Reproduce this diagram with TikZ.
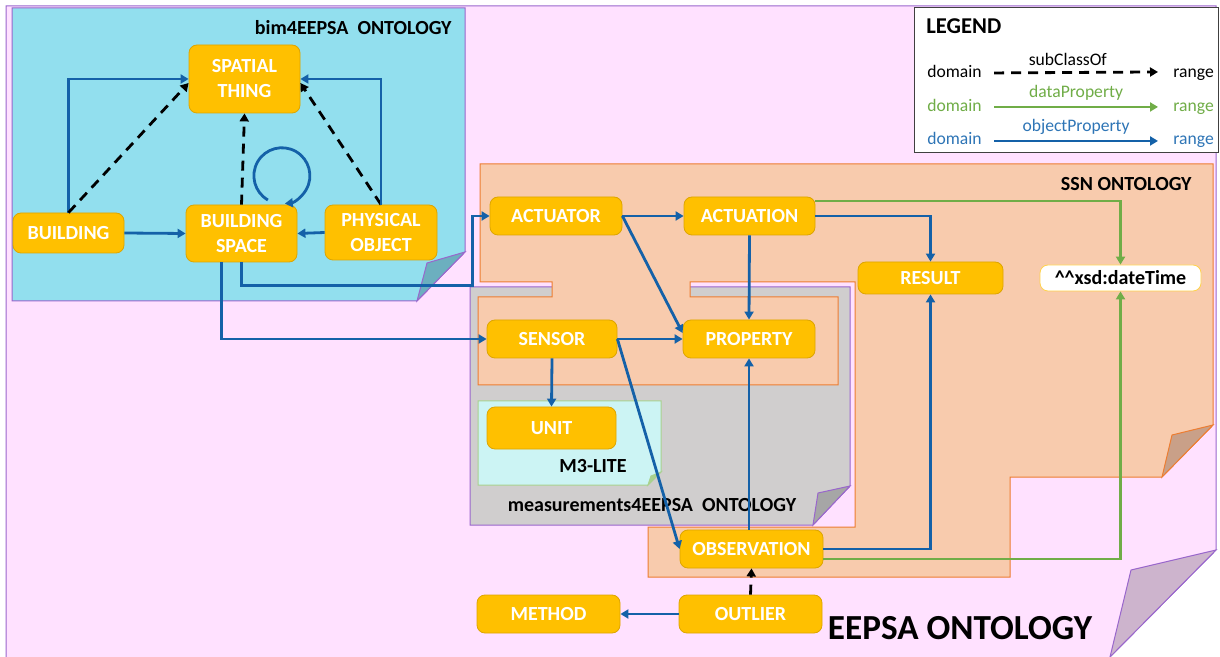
\documentclass[tikz,border=0pt]{standalone}
\usepackage{fontspec}
\setmainfont{Carlito}
\usetikzlibrary{arrows.meta}

\definecolor{clsfill}{HTML}{FFC000}
\definecolor{clsline}{HTML}{DDA500}
\definecolor{eepsafill}{HTML}{FFE1FF}
\definecolor{eepsaline}{HTML}{9966CC}
\definecolor{eepsafold}{HTML}{CDB4CD}
\definecolor{bimfill}{HTML}{92DFEE}
\definecolor{bimfold}{HTML}{6CAFBF}
\definecolor{ssnfill}{HTML}{F8CBAD}
\definecolor{ssnline}{HTML}{ED7D31}
\definecolor{ssnfold}{HTML}{C9A088}
\definecolor{measfill}{HTML}{D0CECE}
\definecolor{measfold}{HTML}{A6A6A6}
\definecolor{mthreefill}{HTML}{CCF4F4}
\definecolor{mthreeline}{HTML}{A9D18E}
\definecolor{objblue}{HTML}{1461A8}
\definecolor{datagreen}{HTML}{70AD47}
\definecolor{legblue}{HTML}{2E75B6}

\begin{document}
\begin{tikzpicture}[x=0.5pt,y=-0.5pt,
  cls/.style={draw=clsline, fill=clsfill, rounded corners=4pt, text=white, align=center, inner sep=1pt, font=\bfseries\fontsize{10}{12.5}\selectfont},
  region/.style={line width=0.5pt},
  title/.style={inner sep=0pt, text=black, font=\bfseries\fontsize{10}{12}\selectfont},
  legtxt/.style={inner sep=1pt, font=\fontsize{8.8}{10}\selectfont},
  objprop/.style={draw=objblue, line width=1.4pt, -{Triangle[length=4pt,width=4.5pt]}},
  dataprop/.style={draw=datagreen, line width=1.4pt, -{Triangle[length=4pt,width=4.5pt]}},
  subcls/.style={draw=black, line width=1.4pt, dash pattern=on 5pt off 3.5pt, -{Triangle[length=4pt,width=4.5pt]}}]
\useasboundingbox (0,0) rectangle (1220,657);

% ontology areas
\filldraw[region, draw=eepsaline, fill=eepsafill] (6,657) -- (6,6) -- (1216,6) -- (1216,550) -- (1110,657);
\filldraw[region, draw=eepsaline, fill=eepsafold] (1216,550) -- (1131,570) -- (1110,657) -- cycle;
\filldraw[region, draw=eepsaline, fill=bimfill] (12,8) -- (465,8) -- (465,252) -- (417,301) -- (12,301) -- cycle;
\filldraw[region, draw=eepsaline, fill=bimfold] (465,252) -- (427,263) -- (417,301) -- cycle;
\filldraw[region, draw=eepsaline, fill=measfill] (470,287) -- (850,287) -- (850,486) -- (813,525) -- (470,525) -- cycle;
\filldraw[region, draw=eepsaline, fill=measfold] (850,486) -- (818,493) -- (813,525) -- cycle;
\filldraw[region, draw=ssnline, fill=ssnfill] (480,164) -- (1213,164) -- (1213,425) -- (1162,477) -- (1010,477) -- (1010,577) -- (648,577) -- (648,527) -- (855,527) -- (855,282) -- (690,282) -- (690,297) -- (838,297) -- (838,385) -- (478,385) -- (478,297) -- (552,297) -- (552,282) -- (480,282) -- cycle;
\filldraw[region, draw=ssnline, fill=ssnfold] (1213,425) -- (1172,435) -- (1162,477) -- cycle;
\filldraw[region, draw=mthreeline, fill=mthreefill] (478,401) -- (661,401) -- (661,472) -- (648,485) -- (478,485) -- cycle;
\filldraw[region, draw=mthreeline, fill=mthreeline] (661,472) -- (651,476) -- (648,485) -- cycle;

\node[title, anchor=east] (bimtitle) at (452,28) {bim4EEPSA\ \ ONTOLOGY};
\node[title, anchor=east] (ssntitle) at (1192,184) {SSN ONTOLOGY};
\node[title] (meastitle) at (652,505) {measurements4EEPSA\ \ ONTOLOGY};
\node[title] (mthreetitle) at (593,466) {M3-LITE};
\node[title, font=\bfseries\fontsize{17.6}{20}\selectfont] (eepsatitle) at (960,628) {EEPSA ONTOLOGY};

% legend
\draw[region, draw=black!75, fill=white] (914,8) rectangle (1218,153);
\node[anchor=west, inner sep=0pt, font=\bfseries\fontsize{11.3}{13}\selectfont] (legtitle) at (926,26) {LEGEND};
\node[legtxt, anchor=base west] (subdom) at (925,78) {domain};
\node[legtxt, anchor=base west] (subran) at (1171,78) {range};
\node[legtxt, anchor=base west, text=datagreen] (datadom) at (925,112) {domain};
\node[legtxt, anchor=base west, text=datagreen] (dataran) at (1171,112) {range};
\node[legtxt, anchor=base west, text=legblue] (objdom) at (925,145) {domain};
\node[legtxt, anchor=base west, text=legblue] (objran) at (1171,145) {range};
\draw[subcls] ([xshift=5pt,yshift=-0.5pt]subdom.east) -- ([xshift=-6.5pt]subdom.east -| subran.west) node[pos=0.45, above=1.5pt, legtxt] {subClassOf};
\draw[dataprop] ([xshift=5pt,yshift=-0.5pt]datadom.east) -- ([xshift=-6.5pt,yshift=-0.5pt]datadom.east -| dataran.west) node[midway, above=1.5pt, legtxt, text=datagreen] {dataProperty};
\draw[objprop] ([xshift=5pt,yshift=-1pt]objdom.east) -- ([xshift=-6.5pt,yshift=-1pt]objdom.east -| objran.west) node[midway, above=1.5pt, legtxt, text=legblue] {objectProperty};

% classes
\node[cls, minimum width=55.5pt, minimum height=34pt] (spatial) at (244.5,79) {SPATIAL\\THING};
\node[cls, minimum width=55.5pt, minimum height=20pt] (building) at (68.5,233) {BUILDING};
\node[cls, minimum width=55.5pt, minimum height=28.5pt] (bspace) at (241.5,233.5) {BUILDING\\SPACE};
\node[cls, minimum width=56pt, minimum height=27.5pt] (physobj) at (381,232.5) {PHYSICAL\\OBJECT};
\node[cls, minimum width=66pt, minimum height=19pt] (actuator) at (556,216) {ACTUATOR};
\node[cls, minimum width=65.5pt, minimum height=19pt] (actuation) at (749.5,216) {ACTUATION};
\node[cls, minimum width=72.5pt, minimum height=16pt] (result) at (930.5,278) {RESULT};
\node[cls, minimum width=80.5pt, minimum height=13pt, fill=white, draw=clsfill!70, text=black] (datetime) at (1120.5,278) {\textasciicircum\textasciicircum xsd:dateTime};
\node[cls, minimum width=65pt, minimum height=19pt] (sensor) at (552,339) {SENSOR};
\node[cls, minimum width=66pt, minimum height=19pt] (property) at (749,339) {PROPERTY};
\node[cls, minimum width=64.5pt, minimum height=21pt] (unit) at (551.5,428) {UNIT};
\node[cls, minimum width=71.5pt, minimum height=19pt] (observation) at (751.5,549) {OBSERVATION};
\node[cls, minimum width=71.5pt, minimum height=19pt] (outlier) at (750.5,614) {OUTLIER};
\node[cls, minimum width=71.5pt, minimum height=19pt] (method) at (548.5,614) {METHOD};

% bim4EEPSA relations
\draw[objprop] (building.north) |- (spatial.west);
\draw[subcls] (building.north) -- ([yshift=-2pt]spatial.west);
\draw[objprop] (building.east) -- (bspace.west);
\draw[subcls] (bspace.north) -- (spatial.south);
\draw[objprop] ([xshift=13.2pt,yshift=2.3pt]bspace.north) arc[start angle=240, end angle=-84, radius=14pt];
\draw[objprop] (physobj.west) -- (bspace.east);
\draw[subcls] (physobj.north) -- ([yshift=-2pt]spatial.east);
\draw[objprop] (physobj.north) |- (spatial.east);
\draw[objprop] ([xshift=-10pt]bspace.south) |- (sensor.west);
\draw[objprop] (bspace.south) -- ++(0,23) -| ([xshift=-8.5pt]actuator.west) -- (actuator.west);

% SSN relations
\draw[objprop] (actuator.east) -- (actuation.west);
\draw[objprop] (actuator.east) -- ([yshift=3pt]property.west);
\draw[objprop] (actuation.south) -- (property.north);
\draw[objprop] (actuation.east) -| (result.north);
\draw[dataprop] ([yshift=7.5pt]actuation.east) -| (datetime.north);
\draw[objprop] (sensor.east) -- (property.west);
\draw[objprop] (sensor.east) -- (observation.west);
\draw[objprop] (sensor.south) -- (unit.north);
\draw[objprop] (observation.north -| property.south) -- (property.south);
\draw[objprop] (observation.east) -| (result.south);
\draw[dataprop] ([yshift=-5pt]observation.east) -| (datetime.south);
\draw[subcls] (outlier.north) -- (observation.south);
\draw[objprop] (outlier.west) -- (method.east);
\end{tikzpicture}
\end{document}
